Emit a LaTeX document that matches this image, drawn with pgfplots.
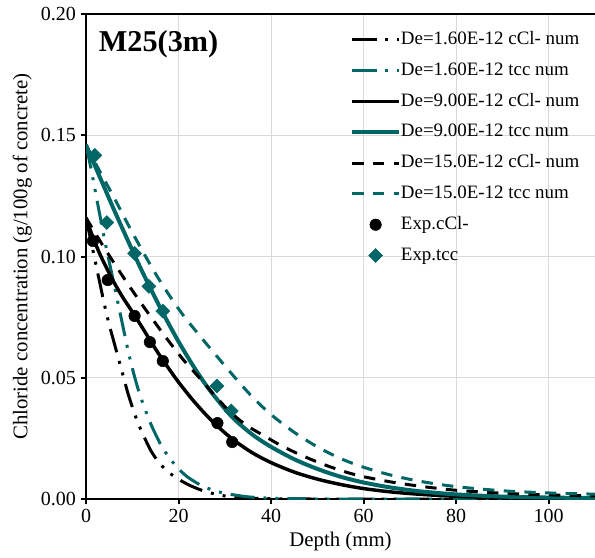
\documentclass[border=0pt]{standalone}
\usepackage{pgfplots}
\pgfplotsset{compat=1.18}
\usepackage{fontspec}
\setmainfont{Liberation Serif}
\definecolor{tealc}{RGB}{0,102,102}
\definecolor{gridgray}{RGB}{217,217,217}
\begin{document}
\begin{tikzpicture}
\begin{axis}[
  scale only axis, width=381.75pt, height=363.75pt,
  xmin=0, xmax=110, ymin=0, ymax=0.2,
  xtick={0,20,40,60,80,100}, ytick={0,0.05,0.1,0.15,0.2},
  scaled ticks=false,
  yticklabel style={/pgf/number format/fixed,/pgf/number format/fixed zerofill,/pgf/number format/precision=2},
  /pgf/number format/assume math mode=true,
  tick label style={font=\fontsize{15}{18}\selectfont},
  label style={font=\fontsize{15.6}{18}\selectfont},
  xlabel={Depth (mm)},
  ylabel={Chloride concentration (g/100g of concrete)},
  axis x line*=bottom, axis y line*=left,
  axis line style={black, line width=2pt},
  tick align=outside, major tick length=4pt,
  tick style={black, line width=1.5pt},
  grid=major, grid style={gridgray, line width=0.75pt},
  legend image code/.code={\draw[mark repeat=2,mark phase=2,#1] plot coordinates {(0pt,0pt) (17.5pt,0pt) (35pt,0pt)};},
  legend cell align=left,
  legend style={draw=none, fill=none, inner sep=0pt, at={(rel axis cs:0.5187,0.965)}, anchor=north west,
    font=\fontsize{14.2}{16}\selectfont, row sep=10.1pt,
    nodes={inner xsep=0pt, inner ysep=0pt, text height=10pt, text depth=3pt}},
]
% De=1.60E-12 cCl- num
\addplot[black, smooth, line width=2.25pt, dash pattern=on 18pt off 6.75pt on 2.25pt off 6.75pt on 2.25pt off 6.75pt] coordinates {
(0,0.116) (1,0.107) (2,0.098) (3,0.089) (4,0.080) (5,0.072) (6,0.065) (7,0.058) (8,0.051) (9,0.044) (10,0.038) (11,0.0325) (12,0.028) (14,0.020) (16,0.0145) (18,0.0108) (20,0.0082) (22,0.006) (25,0.0036) (28,0.002) (31,0.001) (35,0.0004) (40,0.0001) (50,0) (110,0)};
\addlegendentry{De=1.60E-12 cCl- num}
% De=1.60E-12 tcc num
\addplot[tealc, smooth, line width=2.25pt, dash pattern=on 18pt off 6.75pt on 2.25pt off 6.75pt on 2.25pt off 6.75pt] coordinates {
(0,0.146) (1,0.137) (2,0.127) (3,0.117) (4,0.107) (5,0.098) (6,0.089) (7,0.080) (8,0.071) (9,0.062) (10,0.054) (11,0.047) (12,0.041) (14,0.031) (16,0.023) (18,0.017) (20,0.0125) (22,0.009) (25,0.0055) (28,0.0033) (31,0.002) (35,0.0009) (40,0.0003) (45,0.0001) (50,0) (110,0)};
\addlegendentry{De=1.60E-12 tcc num}
% De=9.00E-12 cCl- num
\addplot[black, smooth, line width=2.6pt] coordinates {
(0,0.116) (1,0.1105) (2,0.1055) (3,0.1010) (4,0.0970) (6,0.0895) (8,0.0830) (10,0.0772) (12,0.0712) (14,0.0650) (16,0.0590) (18,0.0535) (20,0.0482) (23,0.0410) (26,0.0346) (29,0.0290) (32,0.0242) (36,0.0190) (40,0.0150) (45,0.0111) (50,0.0082) (55,0.0060) (60,0.0043) (66,0.0029) (72.5,0.0019) (80,0.0011) (90,0.0005) (100,0.0002) (110,0.0001)};
\addlegendentry{De=9.00E-12 cCl- num}
% De=9.00E-12 tcc num
\addplot[tealc, smooth, line width=3pt] coordinates {
(0,0.146) (2,0.1371) (4,0.1283) (6,0.1195) (8,0.1110) (10,0.1026) (12,0.0944) (14,0.0866) (16,0.0790) (18,0.0718) (20,0.0649) (23,0.0554) (26,0.0468) (29,0.0395) (32,0.0330) (36,0.0265) (40,0.0215) (45,0.0164) (50,0.0124) (55,0.0092) (60,0.0068) (66,0.0047) (72.5,0.0031) (80,0.0019) (90,0.0010) (100,0.0006) (110,0.0004)};
\addlegendentry{De=9.00E-12 tcc num}
% De=15.0E-12 cCl- num
\addplot[black, smooth, line width=2.25pt, dash pattern=on 8.5pt off 7pt] coordinates {
(0,0.116) (3,0.1065) (6,0.0975) (9,0.0888) (12,0.0805) (15,0.0725) (18,0.0648) (21,0.0575) (24.5,0.0500) (28,0.0423) (31,0.0362) (34.6,0.0305) (38.9,0.0256) (42,0.0222) (46,0.0185) (51,0.0145) (56,0.0112) (60,0.0092) (66,0.0070) (72.5,0.0052) (80,0.0036) (90,0.0024) (100,0.0017) (110,0.0013)};
\addlegendentry{De=15.0E-12 cCl- num}
% De=15.0E-12 tcc num
\addplot[tealc, smooth, line width=2.25pt, dash pattern=on 8.5pt off 7pt] coordinates {
(0,0.146) (3,0.1350) (6,0.1245) (9,0.1135) (12,0.1030) (15,0.0930) (18,0.0840) (21,0.0758) (24.5,0.0675) (28,0.0595) (32,0.0505) (36,0.0420) (40,0.0348) (45,0.0275) (50,0.0215) (55,0.0167) (60,0.0131) (66,0.0098) (72.5,0.0072) (80,0.0051) (90,0.0034) (100,0.0025) (110,0.0020)};
\addlegendentry{De=15.0E-12 tcc num}
% Exp.cCl-
\addplot[only marks, mark=*, mark size=4.3pt, black, mark options={fill=black}] coordinates {
(1.5,0.1064) (4.7,0.0903) (10.5,0.0755) (13.8,0.0647) (16.6,0.0569) (28.4,0.0313) (31.6,0.0235)};
\addlegendentry{Exp.cCl-}
% Exp.tcc
\addplot[only marks, mark=square*, mark size=3.7pt, tealc, mark options={rotate=45, fill=tealc}] coordinates {
(1.9,0.1417) (4.5,0.114) (10.5,0.1013) (13.6,0.0877) (16.6,0.0775) (28.3,0.0466) (31.4,0.0363)};
\addlegendentry{Exp.tcc}
\draw[black, line width=2pt] (rel axis cs:0,1) -- (rel axis cs:1,1);
\node[anchor=west, font=\bfseries\fontsize{22.7}{26}\selectfont] at (rel axis cs:0.016,0.938) {M25(3m)};
\end{axis}
\pgfresetboundingbox
\path[use as bounding box] ([xshift=-64.5pt,yshift=-43.5pt]current axis.south west) rectangle ([yshift=10.5pt]current axis.north east);
\end{tikzpicture}
\end{document}
